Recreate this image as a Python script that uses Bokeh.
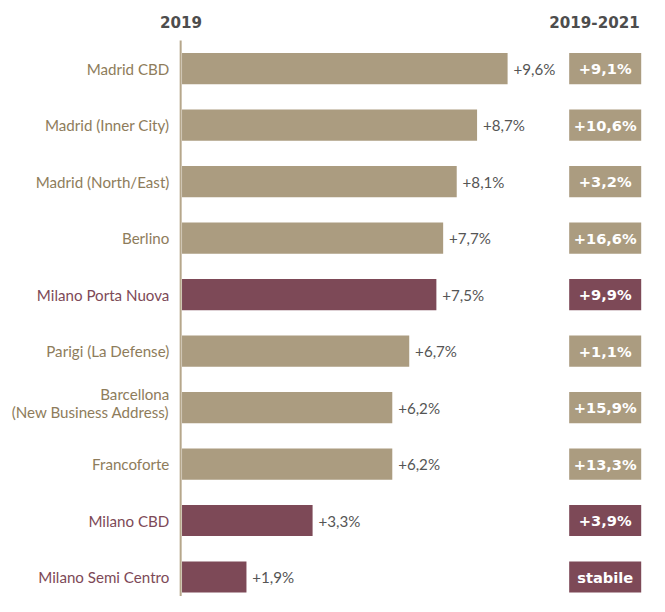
from bokeh.plotting import figure
from bokeh.models import Range1d, ColumnDataSource
from bokeh.core.properties import value
from bokeh.embed import file_html
from bokeh.resources import INLINE

# ---------------- data ----------------
categories = ["Madrid CBD", "Madrid (Inner City)", "Madrid (North/East)", "Berlino",
              "Milano Porta Nuova", "Parigi (La Defense)",
              "Barcellona\n(New Business Address)", "Francoforte",
              "Milano CBD", "Milano Semi Centro"]
growth_2019 = [9.6, 8.7, 8.1, 7.7, 7.5, 6.7, 6.2, 6.2, 3.3, 1.9]
# bar lengths as drawn in the picture (Milano CBD bar is drawn longer than its label)
bar_length = [9.6, 8.7, 8.1, 7.7, 7.5, 6.7, 6.2, 6.2, 3.85, 1.9]
growth_2019_2021 = ["+9,1%", "+10,6%", "+3,2%", "+16,6%", "+9,9%", "+1,1%",
                    "+15,9%", "+13,3%", "+3,9%", "stabile"]
is_milano = [False, False, False, False, True, False, False, False, True, True]
header_left = "2019"
header_right = "2019-2021"

# ---------------- layout ----------------
W, H = 649, 596          # figure size
RW, RH = 665.0, 612.0    # design canvas
S = W / RW               # pixel scale for offsets / fonts
X0 = 186.0               # design pixel of value 0
PX = 34.75               # design pixels per unit
ROW0 = 70.0              # design pixel centre of first row
ROWH = 58.0              # row spacing


def xd(px):
    return (px - X0) / PX


def yd(py):
    return (py - ROW0) / ROWH


def fs(v):
    return f"{v * S:.2f}px"


TAN = "#ab9c80"
MAROON = "#7d4957"
TAN_TXT = "#8e7c5b"
AXIS = "#b6a78b"
LIGHT = "Lato"
BOLD = "DejaVu Sans"

n = len(categories)
rows = list(range(n))
bar_colors = [MAROON if m else TAN for m in is_milano]
txt_colors = [MAROON if m else TAN_TXT for m in is_milano]
val_labels = ["+" + f"{v:.1f}".replace(".", ",") + "%" for v in growth_2019]
cat_yoff = [-5 * S if "\n" in c else 0 for c in categories]

src = ColumnDataSource(dict(y=rows, right=bar_length, cat=categories,
                            bc=bar_colors, tc=txt_colors, vl=val_labels,
                            box=growth_2019_2021, cyo=cat_yoff))

p = figure(width=W, height=H, output_backend="svg", toolbar_location=None,
           x_range=Range1d(xd(0), xd(RW)), y_range=Range1d(yd(RH), yd(0)),
           min_border=0, outline_line_color=None)
p.axis.visible = False
p.grid.visible = False
p.background_fill_color = "white"
p.border_fill_color = "white"

# axis line
p.segment(x0=xd(184.6), x1=xd(184.6), y0=yd(41), y1=yd(RH + 5),
          line_color=AXIS, line_width=2)

# bars
p.hbar(y="y", left=0, right="right", height=32 / ROWH, fill_color="bc",
       line_color=None, source=src)

# category labels
p.text(x=0, y="y", text="cat", source=src, x_offset=-13 * S, y_offset="cyo",
       text_align="right", text_baseline="middle", text_color="tc",
       text_font=value(LIGHT), text_font_size=fs(15.5), text_line_height=1.0)

# value labels
p.text(x="right", y="y", text="vl", source=src, x_offset=6 * S,
       text_align="left", text_baseline="middle", text_color="#555555",
       text_font=value(LIGHT), text_font_size=fs(15.5))

# right boxes
bx0, bx1 = 582.7, 656.5
p.hbar(y="y", left=xd(bx0), right=xd(bx1), height=32 / ROWH, fill_color="bc",
       line_color=None, source=src)
p.text(x=xd((bx0 + bx1) / 2), y="y", text="box", source=src,
       text_align="center", text_baseline="middle", text_color="white",
       text_font=value(BOLD), text_font_size=fs(15), text_font_style="bold")

# headers
p.text(x=[xd(185)], y=[yd(22)], text=[header_left], text_align="center",
       text_baseline="middle", text_color="#4d4d4d", text_font=value(BOLD),
       text_font_size=fs(15.5), text_font_style="bold")
p.text(x=[xd(655)], y=[yd(22)], text=[header_right], text_align="right",
       text_baseline="middle", text_color="#4d4d4d", text_font=value(BOLD),
       text_font_size=fs(15.5), text_font_style="bold")

open("out.html", "w").write(file_html(p, INLINE))
